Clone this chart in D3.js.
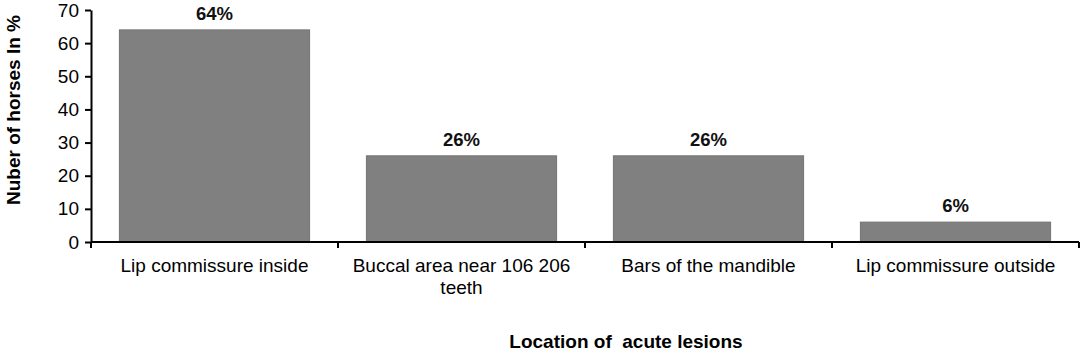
<!DOCTYPE html>
<html><head><meta charset="utf-8">
<script src="https://cdn.jsdelivr.net/npm/d3@7"></script>
<style>body{margin:0;background:#fff}svg{display:block}text{font-family:"Liberation Sans",Arial,sans-serif}</style>
</head><body>
<script>
const categories = ["Lip commissure inside", "Buccal area near 106 206 teeth", "Bars of the mandible", "Lip commissure outside"];
const categoryLines = [["Lip commissure inside"], ["Buccal area near 106 206", "teeth"], ["Bars of the mandible"], ["Lip commissure outside"]];
const values = [64, 26, 26, 6];
const valueLabels = ["64%", "26%", "26%", "6%"];
const yTicks = [0, 10, 20, 30, 40, 50, 60, 70];

const W = 1084, H = 351;
const m = {left: 91, right: 5, top: 10, bottom: 109};
const svg = d3.select("body").append("svg").attr("width", W).attr("height", H);
const x = d3.scaleBand().domain(categories).range([m.left, W - m.right]).paddingInner(0.23).paddingOuter(0.115);
const y = d3.scaleLinear().domain([0, 70]).range([H - m.bottom, m.top]);

svg.selectAll("rect.bar").data(values).join("rect")
  .attr("x", (d, i) => x(categories[i])).attr("y", d => y(d))
  .attr("width", x.bandwidth()).attr("height", d => y(0) - y(d))
  .attr("fill", "#808080").attr("stroke", "#737373").attr("stroke-width", 1);

svg.selectAll("text.vl").data(values).join("text")
  .attr("x", (d, i) => x(categories[i]) + x.bandwidth() / 2).attr("y", d => y(d) - 10)
  .attr("text-anchor", "middle").attr("font-size", 18.5).attr("font-weight", "bold").attr("fill", "#111")
  .text((d, i) => valueLabels[i]);

// Y axis
const ya = svg.append("g").attr("transform", `translate(${m.left},0)`)
  .call(d3.axisLeft(y).tickValues(yTicks).tickSize(6).tickSizeOuter(0).tickPadding(6));
ya.selectAll("path,line").attr("stroke", "#000").attr("stroke-width", 2);
ya.selectAll("text").attr("font-size", 19).attr("fill", "#000").attr("font-family", "Liberation Sans, Arial, sans-serif");

// X axis with ticks at band boundaries
const xg = svg.append("g");
xg.append("line").attr("x1", m.left).attr("x2", W - m.right).attr("y1", y(0)).attr("y2", y(0)).attr("stroke", "#000").attr("stroke-width", 2);
const edges = d3.range(categories.length + 1).map(i => m.left + i * (W - m.right - m.left) / categories.length);
xg.selectAll("line.t").data(edges).join("line").attr("class", "t")
  .attr("x1", d => d).attr("x2", d => d).attr("y1", y(0)).attr("y2", y(0) + 6).attr("stroke", "#000").attr("stroke-width", 2);

categoryLines.forEach((lines, i) => {
  const cx = x(categories[i]) + x.bandwidth() / 2;
  const t = svg.append("text").attr("text-anchor", "middle").attr("font-size", 19).attr("fill", "#000")
    .attr("x", cx).attr("y", 272);
  lines.forEach((l, j) => t.append("tspan").attr("x", cx).attr("dy", j ? 22 : 0).text(l));
});

svg.append("text").attr("x", 626).attr("y", 348).attr("text-anchor", "middle")
  .attr("font-size", 19).attr("font-weight", "bold").attr("fill", "#000").attr("xml:space", "preserve")
  .text("Location of  acute lesions");

svg.append("text").attr("transform", "translate(20,110) rotate(-90)").attr("text-anchor", "middle")
  .attr("font-size", 19).attr("font-weight", "bold").attr("fill", "#000")
  .text("Nuber of horses In %");
</script>
</body></html>
